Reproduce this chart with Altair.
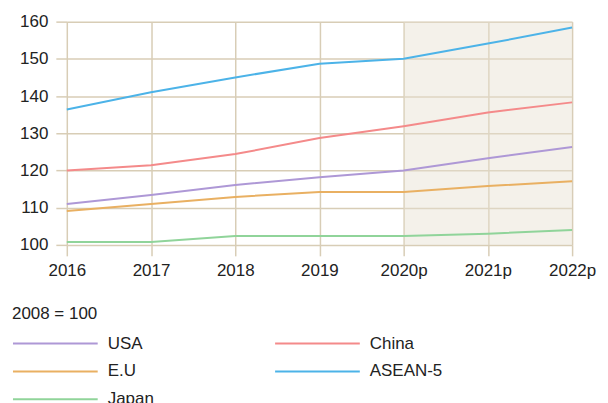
import altair as alt
import pandas as pd

years = [2016, 2017, 2018, 2019, 2020, 2021, 2022]
year_labels = ["2016", "2017", "2018", "2019", "2020p", "2021p", "2022p"]
series_names = ["USA", "China", "E.U", "ASEAN-5", "Japan"]
usa = [111.0, 113.4, 116.1, 118.2, 120.0, 123.3, 126.3]
china = [120.0, 121.4, 124.4, 128.7, 131.9, 135.6, 138.3]
eu = [109.1, 111.0, 112.9, 114.2, 114.2, 115.8, 117.1]
asean = [136.4, 141.0, 145.0, 148.7, 150.0, 154.1, 158.4]
japan = [100.8, 100.8, 102.4, 102.4, 102.4, 103.0, 104.0]
colors = ["#ae98d6", "#f48a8a", "#e9b062", "#4cb3e8", "#90d49a"]
proj_start = [2020]
proj_end = [2022]

rows = []
for name, vals in zip(series_names, [usa, china, eu, asean, japan]):
    for y, v in zip(years, vals):
        rows.append({"year": y, "value": v, "series": name})
df = pd.DataFrame(rows)
shade = pd.DataFrame({"start": proj_start, "end": proj_end})

label_expr = "{" + ",".join(f"'{y}':'{l}'" for y, l in zip(years, year_labels)) + "}[datum.value]"

x_scale = alt.Scale(domain=[2016, 2022], nice=False, zero=False)
y_scale = alt.Scale(domain=[100, 160], nice=False, zero=False)

band = alt.Chart(shade).mark_rect(color="#e6e0d0", opacity=0.45).encode(
    x=alt.X("start:Q", scale=x_scale),
    x2="end:Q",
)

lines = alt.Chart(df).mark_line(strokeWidth=2).encode(
    x=alt.X("year:Q", scale=x_scale, title=None,
            axis=alt.Axis(values=years, labelExpr=label_expr, tickSize=11,
                          labelPadding=7, domain=False, grid=True,
                          labelFlush=False, labelOverlap=False)),
    y=alt.Y("value:Q", scale=y_scale, title=None,
            axis=alt.Axis(values=[100, 110, 120, 130, 140, 150, 160], tickSize=11,
                          labelPadding=8, domain=False, grid=True)),
    color=alt.Color("series:N", sort=series_names,
                    scale=alt.Scale(domain=series_names, range=colors),
                    legend=alt.Legend(title="2008 = 100", orient="none",
                                      legendX=-55, legendY=285, columns=2,
                                      direction="horizontal",
                                      symbolType="stroke", symbolSize=7225,
                                      symbolStrokeWidth=2, clipHeight=20,
                                      rowPadding=8, columnPadding=120,
                                      labelOffset=9, gridAlign="each")),
)

chart = (band + lines).properties(width=507, height=224, padding=4).configure_axis(
    gridColor="#d8cdb6", gridWidth=1.5, tickColor="#d8cdb6", tickWidth=1.5,
    labelFont="Liberation Sans", labelFontSize=17, labelColor="#222222",
).configure_legend(
    titleFont="Liberation Sans", titleFontSize=17, titleFontWeight="normal",
    titleColor="#222222", labelFont="Liberation Sans", labelFontSize=17,
    labelColor="#222222", titlePadding=11,
).configure_view(stroke=None)

chart.save("out.html", embed_options={"renderer": "svg", "actions": False})
